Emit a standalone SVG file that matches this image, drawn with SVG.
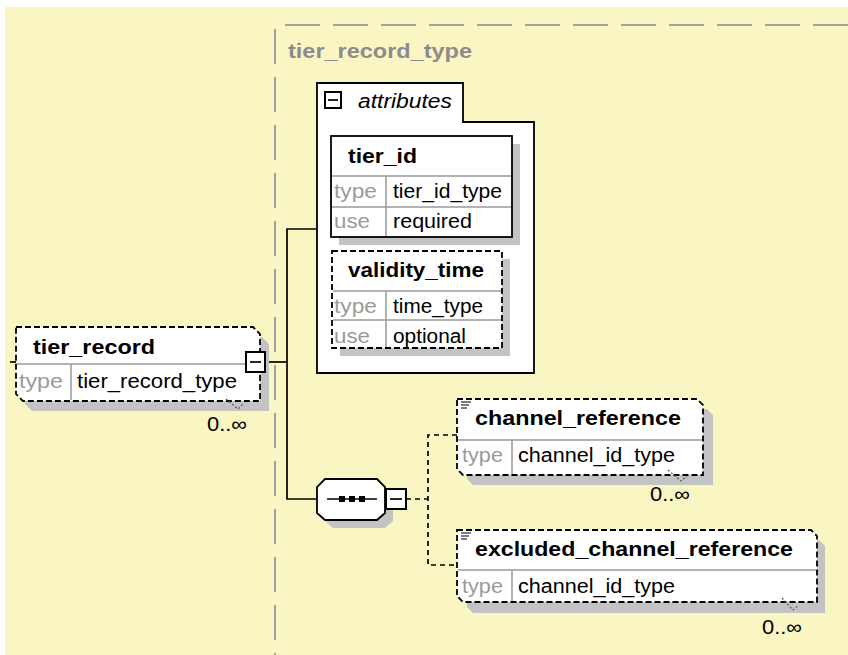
<svg xmlns="http://www.w3.org/2000/svg" width="848" height="655" viewBox="0 0 848 655">
<style>
.hdr{font-family:"Liberation Sans",Arial,sans-serif;font-size:20px;font-weight:bold;fill:#000}
.val{font-family:"Liberation Sans",Arial,sans-serif;font-size:20px;fill:#000}
.lbl{font-family:"Liberation Sans",Arial,sans-serif;font-size:20px;fill:#9a9a9a}
.mult{font-family:"Liberation Sans",Arial,sans-serif;font-size:20px;fill:#000}
.box{fill:#fff;stroke:#000;stroke-width:1.8}
.dash{stroke-dasharray:6 3}
.sep{stroke:#999;stroke-width:1.5;fill:none}
.shadow{fill:#c3c3c3;stroke:none}
.conn{stroke:#000;stroke-width:1.7;fill:none}
.dconn{stroke:#000;stroke-width:1.7;fill:none;stroke-dasharray:5 4}
.vmark{stroke:#555;stroke-width:1.2;fill:none;stroke-dasharray:2 2}
.cont{stroke:#a0a0a0;stroke-width:2;fill:none;stroke-dasharray:35 13}
.mbox{fill:#fff;stroke:#000;stroke-width:2}
</style>
<rect x="0" y="0" width="848" height="655" fill="#fff"/>
<rect x="5" y="7" width="843" height="648" fill="#faf6c3"/>

<g id="tier_record_type">
<line class="cont" x1="285" y1="25" x2="848" y2="25"/>
<line class="cont" x1="275" y1="29" x2="275" y2="655"/>
<text class="hdr" x="288" y="58" style="fill:#8c8c8c" textLength="184" lengthAdjust="spacingAndGlyphs">tier_record_type</text>
</g>

<g id="connectors">
<line class="conn" x1="10" y1="362" x2="16" y2="362"/>
<polyline class="conn" points="265,362 287,362"/>
<polyline class="conn" points="317,229 287,229 287,499 317,499"/>
<line class="dconn" x1="406" y1="499" x2="428" y2="499"/>
<polyline class="dconn" points="457,435 428,435 428,565 457,565"/>
</g>

<g id="tier_record">
<path class="shadow" d="M25,337 H262 L269,344 V411 H32 L25,404 Z"/>
<path class="box dash" d="M16,327 H253 L260,334 V401 H23 L16,394 Z"/>
<line class="sep" x1="17" y1="364" x2="259" y2="364"/>
<line class="sep" x1="71" y1="364" x2="71" y2="400"/>
<text class="hdr" x="33" y="354" textLength="122" lengthAdjust="spacingAndGlyphs">tier_record</text>
<text class="lbl" x="19" y="388" textLength="44" lengthAdjust="spacingAndGlyphs">type</text>
<text class="val" x="77" y="388" textLength="160" lengthAdjust="spacingAndGlyphs">tier_record_type</text>
<rect class="mbox" x="246" y="352" width="19" height="20"/>
<line class="conn" x1="250" y1="362" x2="261" y2="362"/>
<polyline class="vmark" points="226,399 238,409 244,403"/>
<text class="mult" x="207" y="431" textLength="40" lengthAdjust="spacingAndGlyphs">0..∞</text>
</g>

<g id="attributes">
<path class="box" d="M317,83 H463 V122 H534 V373 H317 Z"/>
<rect class="mbox" x="325" y="92" width="16" height="16"/>
<line class="conn" x1="328" y1="100" x2="338" y2="100"/>
<text class="val" x="358" y="108" font-style="italic" textLength="94" lengthAdjust="spacingAndGlyphs">attributes</text>
</g>

<g id="tier_id">
<rect class="shadow" x="339" y="144" width="181" height="101"/>
<rect class="box" x="331" y="136" width="181" height="101" stroke-width="2"/>
<line class="sep" x1="332" y1="176" x2="511" y2="176"/>
<line class="sep" x1="332" y1="207" x2="511" y2="207"/>
<line class="sep" x1="386" y1="176" x2="386" y2="236"/>
<text class="hdr" x="348" y="163" textLength="69" lengthAdjust="spacingAndGlyphs">tier_id</text>
<text class="lbl" x="334" y="198" textLength="43" lengthAdjust="spacingAndGlyphs">type</text>
<text class="val" x="393" y="198" textLength="109" lengthAdjust="spacingAndGlyphs">tier_id_type</text>
<text class="lbl" x="334" y="228" textLength="36" lengthAdjust="spacingAndGlyphs">use</text>
<text class="val" x="393" y="228" textLength="79" lengthAdjust="spacingAndGlyphs">required</text>
</g>

<g id="validity_time">
<rect class="shadow" x="340" y="259" width="170" height="97"/>
<rect class="box dash" x="332" y="251" width="170" height="97"/>
<line class="sep" x1="333" y1="291" x2="501" y2="291"/>
<line class="sep" x1="333" y1="320" x2="501" y2="320"/>
<line class="sep" x1="386" y1="291" x2="386" y2="347"/>
<text class="hdr" x="348" y="277" textLength="136" lengthAdjust="spacingAndGlyphs">validity_time</text>
<text class="lbl" x="334" y="313" textLength="43" lengthAdjust="spacingAndGlyphs">type</text>
<text class="val" x="393" y="313" textLength="90" lengthAdjust="spacingAndGlyphs">time_type</text>
<text class="lbl" x="334" y="343" textLength="36" lengthAdjust="spacingAndGlyphs">use</text>
<text class="val" x="393" y="343" textLength="73" lengthAdjust="spacingAndGlyphs">optional</text>
</g>

<g id="sequence">
<polygon class="shadow" points="333,487 385,487 393,495 393,521 385,528 333,528 325,521 325,495"/>
<polygon class="box" points="325,479 377,479 385,487 385,513 377,520 325,520 317,513 317,487"/>
<line class="conn" x1="327" y1="499" x2="377" y2="499"/>
<rect x="339" y="496" width="6" height="6" fill="#000"/>
<rect x="349" y="496" width="6" height="6" fill="#000"/>
<rect x="359" y="496" width="6" height="6" fill="#000"/>
<rect class="mbox" x="386" y="489" width="20" height="20"/>
<line class="conn" x1="390" y1="499" x2="402" y2="499"/>
</g>

<g id="channel_reference">
<path class="shadow" d="M467,409 H707 L713,415 V485 H473 L467,479 Z"/>
<path class="box dash" d="M457,399 H697 L703,405 V475 H463 L457,469 Z"/>
<line class="sep" x1="458" y1="440" x2="702" y2="440"/>
<line class="sep" x1="512" y1="440" x2="512" y2="474"/>
<line x1="461" y1="402" x2="471" y2="402" stroke="#000" stroke-width="1"/>
<line x1="461" y1="405" x2="469" y2="405" stroke="#000" stroke-width="1"/>
<line x1="461" y1="408" x2="467" y2="408" stroke="#000" stroke-width="1"/>
<text class="hdr" x="475" y="425" textLength="206" lengthAdjust="spacingAndGlyphs">channel_reference</text>
<text class="lbl" x="462" y="462" textLength="41" lengthAdjust="spacingAndGlyphs">type</text>
<text class="val" x="518" y="462" textLength="157" lengthAdjust="spacingAndGlyphs">channel_id_type</text>
<polyline class="vmark" points="668,470 681,481 687,476"/>
<text class="mult" x="650" y="501" textLength="40" lengthAdjust="spacingAndGlyphs">0..∞</text>
</g>

<g id="excluded_channel_reference">
<path class="shadow" d="M467,540 H819 L825,546 V613 H473 L467,607 Z"/>
<path class="box dash" d="M457,530 H811 L817,536 V602 H463 L457,596 Z"/>
<line class="sep" x1="458" y1="570" x2="816" y2="570"/>
<line class="sep" x1="512" y1="570" x2="512" y2="601"/>
<line x1="461" y1="533" x2="471" y2="533" stroke="#000" stroke-width="1"/>
<line x1="461" y1="536" x2="469" y2="536" stroke="#000" stroke-width="1"/>
<line x1="461" y1="539" x2="467" y2="539" stroke="#000" stroke-width="1"/>
<text class="hdr" x="475" y="556" textLength="318" lengthAdjust="spacingAndGlyphs">excluded_channel_reference</text>
<text class="lbl" x="462" y="593" textLength="41" lengthAdjust="spacingAndGlyphs">type</text>
<text class="val" x="518" y="593" textLength="157" lengthAdjust="spacingAndGlyphs">channel_id_type</text>
<polyline class="vmark" points="782,598 793,610 799,605"/>
<text class="mult" x="762" y="634" textLength="40" lengthAdjust="spacingAndGlyphs">0..∞</text>
</g>
</svg>
